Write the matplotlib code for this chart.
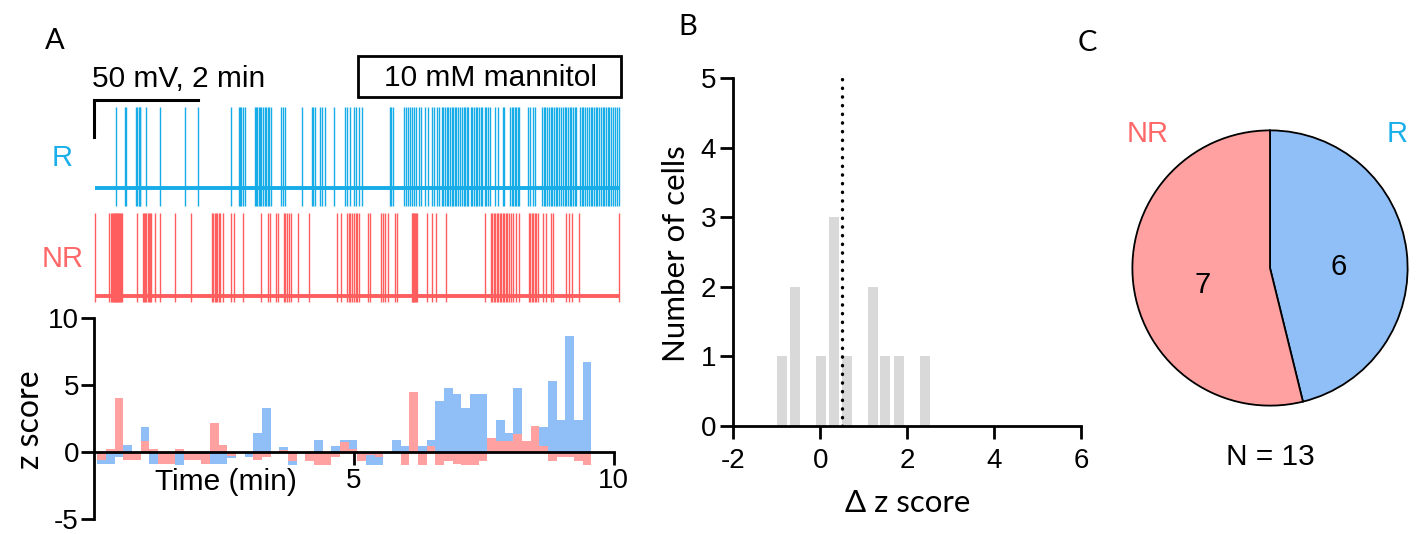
import numpy as np
import matplotlib
matplotlib.use("Agg")
import matplotlib.pyplot as plt
from matplotlib.patches import Rectangle

# ---------------- data ----------------
# Panel A: example traces (spike times in min)
r_spikes = [0.44, 0.61, 0.63, 0.81, 0.84, 0.87, 0.89, 0.90, 1.00, 1.27, 1.75, 2.01,
            2.64, 2.79, 2.82, 2.84, 2.87, 2.91,
            3.10, 3.13, 3.15, 3.18, 3.20, 3.23, 3.26, 3.29, 3.32, 3.35, 3.38, 3.42,
            3.60, 3.64, 3.68, 4.01, 4.20, 4.23, 4.26, 4.35, 4.40, 4.45, 4.62,
            4.84, 4.88, 4.93, 5.00, 5.05, 5.10, 5.16, 5.70, 5.72, 5.76,
            5.98, 6.01, 6.05, 6.09, 6.12, 6.16, 6.20, 6.25, 6.30, 6.38, 6.43, 6.50, 6.55,
            6.60, 6.64, 6.70, 6.73, 6.76, 6.79, 6.82, 6.86, 6.89, 6.92, 6.95, 6.98, 7.01,
            7.05, 7.08, 7.12, 7.15, 7.18, 7.21, 7.25, 7.28, 7.31, 7.35, 7.38, 7.41, 7.45,
            7.48, 7.52, 7.55, 7.58, 7.62, 7.73, 7.77, 7.87, 7.90,
            8.01, 8.04, 8.07, 8.10, 8.13, 8.16, 8.19, 8.35, 8.40, 8.45, 8.49,
            8.63, 8.66, 8.69, 8.72, 8.76, 8.79, 8.82, 8.86, 8.89, 8.92, 8.96, 8.99, 9.02,
            9.06, 9.09, 9.12, 9.16, 9.19, 9.22, 9.25, 9.28,
            9.36, 9.39, 9.42, 9.46, 9.49, 9.52, 9.56, 9.59, 9.62, 9.66, 9.69, 9.72, 9.76,
            9.79, 9.82, 9.86, 9.89, 9.92, 9.96, 9.99, 10.03, 10.07, 10.10]
nr_spikes = [0.035, 0.29, 0.33, 0.36, 0.375, 0.39, 0.405, 0.42, 0.435, 0.45, 0.465,
             0.48, 0.495, 0.51, 0.525, 0.54,
             0.84, 0.95, 0.97, 0.99, 1.01, 1.04, 1.07, 1.09, 1.11, 1.18, 1.27, 1.57, 1.88,
             2.28, 2.30, 2.33, 2.35, 2.38, 2.41, 2.44, 2.49, 2.65, 2.71, 2.87, 3.23, 3.36,
             3.40, 3.50, 3.55, 3.66, 3.69, 3.72, 3.76, 3.79, 3.93, 4.14,
             4.68, 4.75, 4.88, 4.91, 4.94, 4.97, 5.00, 5.04, 5.07, 5.10, 5.28, 5.32,
             5.52, 5.56, 5.61, 5.66, 5.80, 5.84,
             6.12, 6.135, 6.15, 6.165, 6.18, 6.20, 6.22, 6.41, 6.51, 6.59, 6.78, 7.53,
             7.64, 7.67, 7.70, 7.72, 7.75, 7.78, 7.81, 7.84, 7.87, 7.90, 7.93, 7.96, 7.99,
             8.02, 8.06, 8.13, 8.19, 8.37, 8.40, 8.43, 8.46, 8.49, 8.51, 8.54, 8.64, 8.70,
             8.80, 8.83, 9.09, 9.15, 9.21, 9.34, 10.10]
trace_start, trace_end = 0.02, 10.12
baseline_mv = -60
r_peak_mv, r_trough_mv = 49, -84
nr_peak_mv, nr_trough_mv = 52, -68

# Panel A: z-score per 10-s bin
bin_start = 0.073            # min
bin_width = 1 / 6            # min (10 s)
z_R = [-0.9, -0.9, -0.4, 0.5, -0.3, 1.9, -0.9, -0.9, -0.9, -0.95,
       -0.3, -0.3, -0.9, -0.9, -0.9, -0.45, 0.0, -0.4, 1.4, 3.3,
       0.0, 0.4, -1.0, 0.0, -0.3, 0.9, -0.2, 0.45, 0.9, 0.9,
       -0.2, -1.0, -1.0, 0.0, 0.9, 0.45, 0.45, 0.45, 0.9, 3.8,
       4.75, 4.3, 3.3, 4.3, 4.3, 0.6, 2.4, 1.4, 4.8, 0.5,
       1.0, 1.9, 5.3, 2.4, 8.65, 2.4, 6.7]
z_NR = [-0.6, 0.25, 4.0, -0.6, -0.6, 0.8, 0.25, -0.9, -0.9, 0.25,
        -0.6, -0.6, -0.9, 2.2, 0.5, -0.3, 0.0, 0.0, -0.6, -0.35,
        0.0, 0.15, -0.7, 0.0, -0.7, -1.0, -1.0, -0.35, 0.75, 0.2,
        -0.65, -0.2, -0.35, 0.0, 0.0, -1.0, 4.5, -1.0, 0.45, -1.0,
        -0.7, -0.9, -1.0, -1.0, -0.7, 1.05, 0.8, 0.8, 1.35, 0.8,
        1.95, 0.45, -0.65, -0.35, -0.35, -0.65, -0.95]

# Panel B: histogram of delta z score
dz_centers = [-0.88, -0.59, 0.01, 0.31, 0.62, 1.22, 1.50, 1.81, 2.41]
dz_counts = [1, 2, 1, 3, 1, 2, 1, 1, 1]
dz_threshold = 0.5

# Panel C: responders
pie_labels = ["R", "NR"]
pie_counts = [6, 7]

# ---------------- style ----------------
C_TRACE_R = "#15ACE8"
C_TRACE_NR = "#FF5E5E"
C_BAR_R = "#90BFF8"
C_BAR_NR = "#FFA1A1"
C_TXT_R = "#1AAEEA"
C_TXT_NR = "#FF6868"
SANS = ["Liberation Sans", "DejaVu Sans"]
LAB = ["Lato", "DejaVu Sans"]
plt.rcParams["font.family"] = SANS
plt.rcParams["axes.unicode_minus"] = False

W, H = 1419, 534
fig = plt.figure(figsize=(W / 100, H / 100), dpi=100)


def box(x0, y0, x1, y1):
    """pixel box (left, top, right, bottom) -> fig rect"""
    return [x0 / W, 1 - y1 / H, (x1 - x0) / W, (y1 - y0) / H]


def fp(x, y):
    return x / W, 1 - y / H


PX = 52.0  # px per minute
x0px = 93.5

# ---- traces ----
mv_per_px = 50 / 37.0
ax_r = fig.add_axes(box(x0px, 95, x0px + PX * 10.15, 210))
ax_r.set_xlim(0, 10.15)
ax_r.set_ylim(baseline_mv - 22 * mv_per_px, baseline_mv + 93 * mv_per_px)
ax_r.axis("off")
ax_r.vlines(r_spikes, r_trough_mv, r_peak_mv, color=C_TRACE_R, lw=1.0)
ax_r.plot([trace_start, trace_end], [baseline_mv, baseline_mv], color=C_TRACE_R, lw=2.8,
          solid_capstyle="butt")
# scale bar 50 mV, 2 min
sb_top = baseline_mv + 88 * mv_per_px
ax_r.plot([0, 0, 2], [sb_top - 50, sb_top, sb_top], color="black", lw=2.2, clip_on=False,
          solid_joinstyle="miter")

ax_nr = fig.add_axes(box(x0px, 210, x0px + PX * 10.15, 305))
ax_nr.set_xlim(0, 10.15)
ax_nr.set_ylim(baseline_mv - 9 * mv_per_px, baseline_mv + 86 * mv_per_px)
ax_nr.axis("off")
ax_nr.vlines(nr_spikes, nr_trough_mv, nr_peak_mv, color=C_TRACE_NR, lw=1.0)
ax_nr.plot([trace_start, trace_end], [baseline_mv, baseline_mv], color=C_TRACE_NR, lw=2.8,
           solid_capstyle="butt")

fig.text(*fp(92.5, 79), "50 mV, 2 min", fontsize=21.5, ha="left", va="center")
fig.patches.append(Rectangle(fp(358, 97), (621 - 358) / W, 41 / H, transform=fig.transFigure,
                             fill=False, lw=2, edgecolor="black"))
fig.text(*fp(490, 78), "10 mM mannitol", fontsize=21.5, ha="center", va="center")
fig.text(*fp(62, 158), "R", fontsize=21, color=C_TXT_R, ha="center", va="center")
fig.text(*fp(62.5, 259), "NR", fontsize=21, color=C_TXT_NR, ha="center", va="center")

# ---- z-score histogram ----
ax_z = fig.add_axes(box(x0px, 318, x0px + PX * 10, 519))
lefts = bin_start + bin_width * np.arange(len(z_R))
ax_z.bar(lefts, z_R, width=bin_width, align="edge", color=C_BAR_R, lw=0)
ax_z.bar(lefts, z_NR, width=bin_width, align="edge", color=C_BAR_NR, lw=0)
ax_z.set_xlim(0, 10)
ax_z.set_ylim(-5, 10)
for s in ["top", "right"]:
    ax_z.spines[s].set_visible(False)
ax_z.spines["bottom"].set_position(("data", 0))
for s in ["left", "bottom"]:
    ax_z.spines[s].set_linewidth(2)
ax_z.set_xticks([5, 10])
ax_z.set_yticks([-5, 0, 5, 10])
ax_z.tick_params(axis="both", width=2, length=9.5, labelsize=20, pad=2)
ax_z.tick_params(axis="y", pad=1)
ax_z.text(2.55, -2.25, "Time (min)", fontsize=21.5, ha="center", va="center")
fig.text(*fp(30, 420), "z score", fontsize=23, family=LAB, rotation=90, ha="center", va="center")

# ---- panel B ----
ax_b = fig.add_axes(box(733.3, 78.3, 1081, 426))
ax_b.bar(dz_centers, dz_counts, width=0.23, color="#D9D9D9", lw=0)
ax_b.plot([dz_threshold, dz_threshold], [0, 5], color="black", lw=2.4,
          linestyle=(0, (0.1, 2.5)), dash_capstyle="round")
ax_b.set_xlim(-2, 6)
ax_b.set_ylim(0, 5)
for s in ["top", "right"]:
    ax_b.spines[s].set_visible(False)
for s in ["left", "bottom"]:
    ax_b.spines[s].set_linewidth(2)
ax_b.set_xticks([-2, 0, 2, 4, 6])
ax_b.set_yticks([0, 1, 2, 3, 4, 5])
ax_b.tick_params(axis="both", width=2, length=9.5, labelsize=20)
ax_b.tick_params(axis="y", pad=3)
ax_b.tick_params(axis="x", pad=6)
fig.text(*fp(676, 254), "Number of cells", fontsize=22.5, family=LAB, rotation=90,
         ha="center", va="center")
fig.text(*fp(908, 503), "Δ z score", fontsize=22.5, family=LAB, ha="center", va="center")

# ---- panel C ----
ax_c = fig.add_axes(box(1131, 129, 1409, 407))
total = sum(pie_counts)
wedges, _ = ax_c.pie(pie_counts, colors=[C_BAR_R, C_BAR_NR], startangle=90, counterclock=False,
                     radius=1, wedgeprops=dict(edgecolor="black", linewidth=1.3))
ax_c.text(0.50, 0.01, str(pie_counts[0]), fontsize=21, ha="center", va="center")
ax_c.text(-0.49, -0.12, str(pie_counts[1]), fontsize=21, ha="center", va="center")
ax_c.set_xlim(-1.01, 1.01)
ax_c.set_ylim(-1.01, 1.01)
ax_c.set_aspect("equal")
fig.text(*fp(1148, 134), pie_labels[1], fontsize=21, color=C_TXT_NR, ha="center", va="center")
fig.text(*fp(1397, 134), pie_labels[0], fontsize=21, color=C_TXT_R, ha="center", va="center")
fig.text(*fp(1270, 457), f"N = {total}", fontsize=21.5, ha="center", va="center")

# panel letters
fig.text(*fp(55, 41), "A", fontsize=21, family=LAB, ha="center", va="center")
fig.text(*fp(688, 27), "B", fontsize=21, family=LAB, ha="center", va="center")
fig.text(*fp(1087, 43), "C", fontsize=21, family=LAB, ha="center", va="center")

fig.savefig("out.png", dpi=100)
